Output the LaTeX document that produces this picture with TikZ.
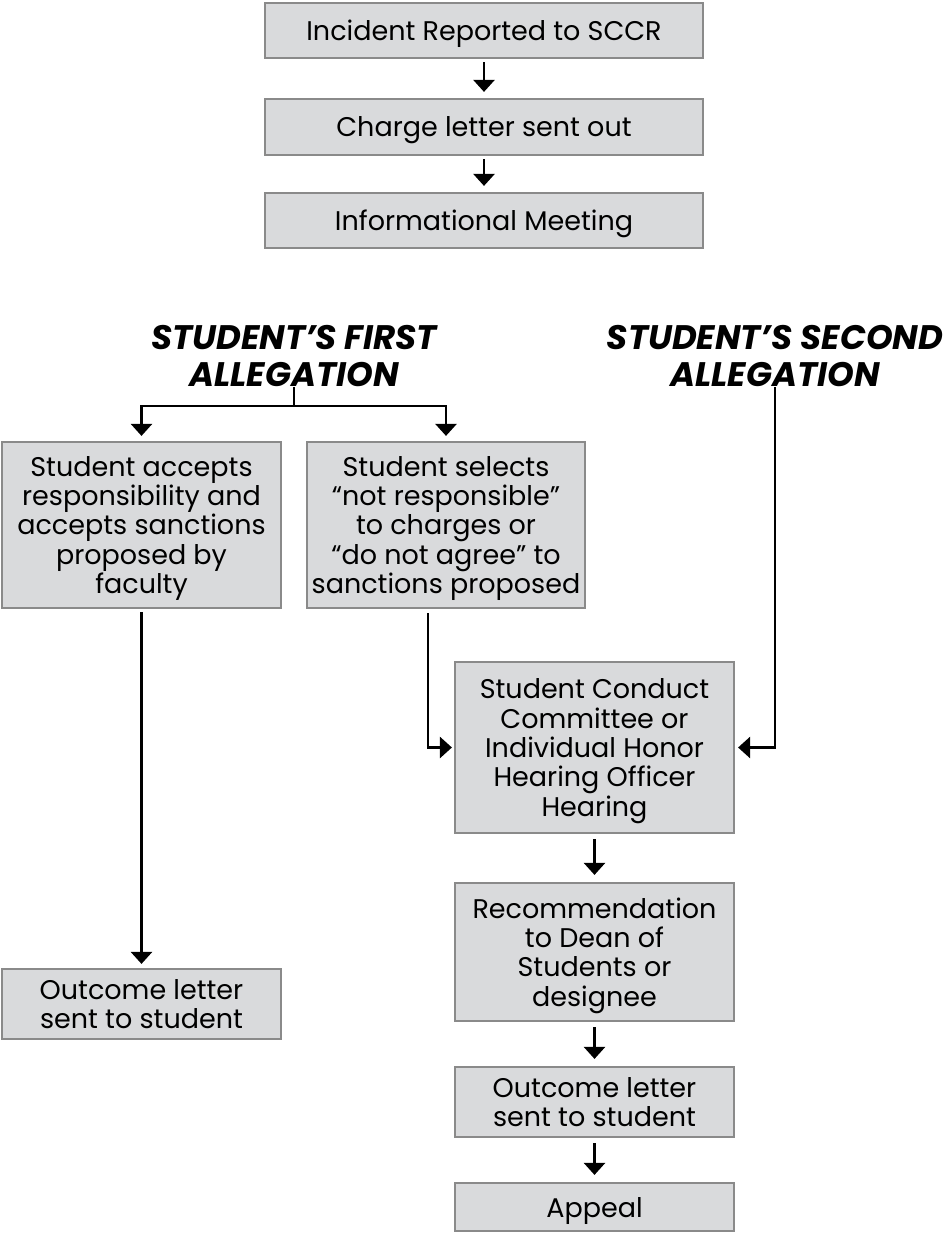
\documentclass[tikz,border=0pt]{standalone}
\usepackage{fontspec}
\setmainfont{Poppins}
\usetikzlibrary{arrows.meta,calc}
\definecolor{boxfill}{HTML}{D9DADC}
\definecolor{boxline}{HTML}{8A8A8A}
\begin{document}
\begin{tikzpicture}[x=1pt,y=-1pt,
  box/.style={draw=boxline, fill=boxfill, line width=2.2pt, align=center, inner sep=0pt,
    text depth=0pt, font=\fontsize{27}{29.3}\selectfont},
  hdr/.style={align=center, inner sep=0pt, font=\fontsize{34}{37}\selectfont\bfseries\itshape},
  conn/.style={line width=2.6pt, -{Triangle[width=21pt,length=12pt]}},
  plain/.style={line width=2.6pt}
]
\useasboundingbox (0,0) rectangle (945,1234);

\node[box, minimum width=438pt, minimum height=55pt] (b1) at (484,30.5) {Incident Reported to SCCR};
\node[box, minimum width=438pt, minimum height=56pt] (b2) at (484,127) {Charge letter sent out};
\node[box, minimum width=438pt, minimum height=55pt] (b3) at (484,220.5) {Informational Meeting};

\node[hdr] (h1) at (294,356) {STUDENT’S FIRST\\ALLEGATION};
\node[hdr] (h2) at (775,356) {STUDENT’S SECOND\\ALLEGATION};

\node[box, minimum width=279pt, minimum height=166pt] (A) at (141.5,525) {Student accepts\\responsibility and\\accepts sanctions\\proposed by\\faculty};
\node[box, minimum width=278pt, minimum height=166pt] (B) at (446,525) {Student selects\\“not responsible”\\to charges or\\“do not agree” to\\sanctions proposed};
\node[box, minimum width=279pt, minimum height=171pt] (C) at (594.5,747.5) {Student Conduct\\Committee or\\Individual Honor\\Hearing Officer\\Hearing};
\node[box, minimum width=279pt, minimum height=138pt] (D) at (594.5,952) {Recommendation\\to Dean of\\Students or\\designee};
\node[box, minimum width=279pt, minimum height=70pt] (E) at (594.5,1102) {Outcome letter\\sent to student};
\node[box, minimum width=279pt, minimum height=48pt] (F) at (594.5,1207) {Appeal};
\node[box, minimum width=279pt, minimum height=70pt] (G) at (141.5,1004) {Outcome letter\\sent to student};

\draw[conn, shorten <=3pt, shorten >=6pt] (b1) -- (b2);
\draw[conn, shorten <=3pt, shorten >=6pt] (b2) -- (b3);

\coordinate (j1) at (294,406);
\draw[plain] (h1.south) -- (j1);
\draw[conn, shorten >=5pt] (j1) -| (A.north);
\draw[conn, shorten >=5pt] (j1) -| (B.north);

\draw[conn, shorten <=3pt, shorten >=4pt] (A.south) -- (G.north);
\draw[conn, shorten >=2pt] ([xshift=-18pt,yshift=-4pt]B.south) |- (C.west);
\draw[conn, shorten >=3pt] (h2.south) |- (C.east);

\draw[conn, shorten <=5pt, shorten >=7pt] (C) -- (D);
\draw[conn, shorten <=5pt, shorten >=7pt] (D) -- (E);
\draw[conn, shorten <=5pt, shorten >=7pt] (E) -- (F);
\end{tikzpicture}
\end{document}
